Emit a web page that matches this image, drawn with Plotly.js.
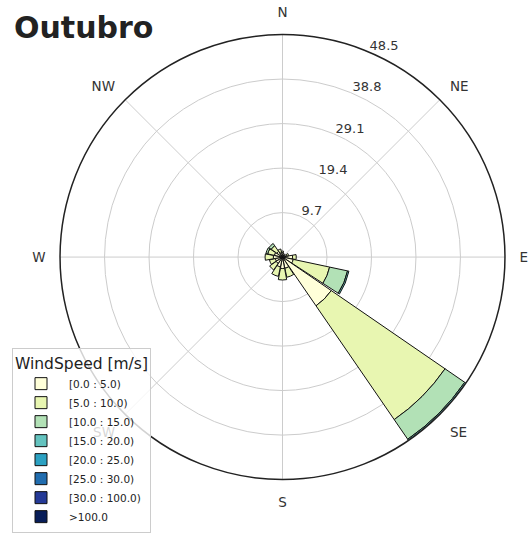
<!DOCTYPE html>
<html>
<head>
<meta charset="utf-8">
<script src="https://cdn.plot.ly/plotly-3.0.1.min.js"></script>
<style>html,body{margin:0;padding:0;background:#fff;}#chart{width:532px;height:533px;}</style>
</head>
<body>
<div id="chart"></div>
<script>
// Directions (degrees, clockwise from North)
const directions = [0, 22.5, 45, 67.5, 90, 112.5, 135, 157.5, 180, 202.5, 225, 247.5, 270, 292.5, 315, 337.5];
const dirLabels = ["N","NNE","NE","ENE","E","ESE","SE","SSE","S","SSW","SW","WSW","W","WNW","NW","NNW"];

const binNames = ["[0.0 : 5.0)", "[5.0 : 10.0)", "[10.0 : 15.0)", "[15.0 : 20.0)", "[20.0 : 25.0)", "[25.0 : 30.0)", "[30.0 : 100.0)", ">100.0"];
const binColors = ["#ffffd9", "#e8f6b1", "#b2e1b6", "#64c3bf", "#2ca1c2", "#216daf", "#253a97", "#081d58"];

// Frequency (%) per direction, per speed bin
const bin0_5    = [1.0, 0.8, 0.6, 1.0, 2.2, 2.4, 12.9, 2.5, 2.5, 2.2, 1.7, 1.6, 2.0, 1.8, 1.5, 1.0];
const bin5_10   = [0.3, 0.0, 0.0, 0.4, 0.8, 8.1, 30.1, 2.0, 2.5, 2.1, 1.7, 1.3, 1.8, 1.5, 1.5, 0.8];
const bin10_15  = [0.0, 0.0, 0.0, 0.0, 0.0, 4.0, 5.2, 0.0, 0.0, 0.0, 0.0, 0.0, 0.0, 0.4, 0.6, 0.0];
const bin15_20  = [0.0, 0.0, 0.0, 0.0, 0.0, 0.3, 0.3, 0.0, 0.0, 0.0, 0.0, 0.0, 0.0, 0.0, 0.0, 0.0];
const bin20_25  = [0,0,0,0,0,0,0,0,0,0,0,0,0,0,0,0];
const bin25_30  = [0,0,0,0,0,0,0,0,0,0,0,0,0,0,0,0];
const bin30_100 = [0,0,0,0,0,0,0,0,0,0,0,0,0,0,0,0];
const binOver100= [0,0,0,0,0,0,0,0,0,0,0,0,0,0,0,0];
const binValues = [bin0_5, bin5_10, bin10_15, bin15_20, bin20_25, bin25_30, bin30_100, binOver100];

const radialTicks = [9.7, 19.4, 29.1, 38.8, 48.5];
const compassVals = [0, 45, 90, 135, 180, 225, 270, 315];
const compassText = ["N", "NE", "E", "SE", "S", "SW", "W", "NW"];

const traces = binValues.map((vals, i) => ({
  type: 'barpolar',
  r: vals,
  theta: directions,
  name: binNames[i],
  width: 21,
  marker: {color: binColors[i], line: {color: '#111', width: 1}},
  hoverinfo: 'skip'
}));
// empty trace on an overlay polar that only carries the radial tick labels
traces.push({type: 'barpolar', r: [], theta: [], subplot: 'polar2', showlegend: false, hoverinfo: 'skip'});

const W = 532, H = 533;
const cx = 282.5, cy = 260, R = 225;
const lx = cx - 4.5, ly = cy - 10.5; // radial label overlay centre

const layout = {
  width: W, height: H,
  margin: {l: 0, r: 0, t: 0, b: 0},
  paper_bgcolor: '#fff',
  font: {family: 'DejaVu Sans, sans-serif', color: '#333', size: 13},
  title: {
    text: '<b>Outubro</b>',
    font: {family: 'DejaVu Sans, sans-serif', size: 30, color: '#222'},
    x: 14 / W, xanchor: 'left', xref: 'paper',
    y: 1 - 27 / H, yanchor: 'middle'
  },
  showlegend: true,
  legend: {
    title: {text: 'WindSpeed [m/s]', font: {size: 15.5, color: '#222'}},
    font: {size: 10.5, color: '#222'},
    x: 12 / W, xanchor: 'left',
    y: 1 - 352 / H, yanchor: 'top',
    bgcolor: 'rgba(255,255,255,0.8)',
    bordercolor: '#cccccc', borderwidth: 1,
    traceorder: 'normal',
    itemwidth: 46
  },
  polar: {
    domain: {x: [(cx - R) / W, (cx + R) / W], y: [1 - (cy + R) / H, 1 - (cy - R) / H]},
    bgcolor: '#fff',
    barmode: 'stack',
    angularaxis: {
      direction: 'clockwise', rotation: 90,
      tickmode: 'array', tickvals: compassVals, ticktext: compassText,
      showgrid: true, gridcolor: '#cccccc', gridwidth: 1,
      showline: true, linecolor: '#222', linewidth: 1.5,
      ticks: 'outside', ticklen: 11, tickcolor: 'rgba(0,0,0,0)',
      tickfont: {size: 13.5, color: '#333'}
    },
    radialaxis: {
      range: [0, 48.5],
      tickmode: 'array', tickvals: radialTicks,
      angle: 67.5, showticklabels: false,
      showline: false, ticks: '',
      showgrid: true, gridcolor: '#cccccc', gridwidth: 1
    }
  },
  polar2: {
    domain: {x: [(lx - R) / W, (lx + R) / W], y: [1 - (ly + R) / H, 1 - (ly - R) / H]},
    bgcolor: 'rgba(0,0,0,0)',
    angularaxis: {visible: false, showgrid: false, showline: false, direction: 'clockwise', rotation: 90},
    radialaxis: {
      range: [0, 48.5],
      tickmode: 'array', tickvals: radialTicks, ticktext: radialTicks.map(v => v.toFixed(1)),
      angle: 67.5, side: 'clockwise', tickangle: 67.5,
      showline: false, ticks: '', showgrid: false,
      tickfont: {size: 13, color: '#333'}
    }
  }
};

Plotly.newPlot('chart', traces, layout, {displayModeBar: false, staticPlot: true});
</script>
</body>
</html>
